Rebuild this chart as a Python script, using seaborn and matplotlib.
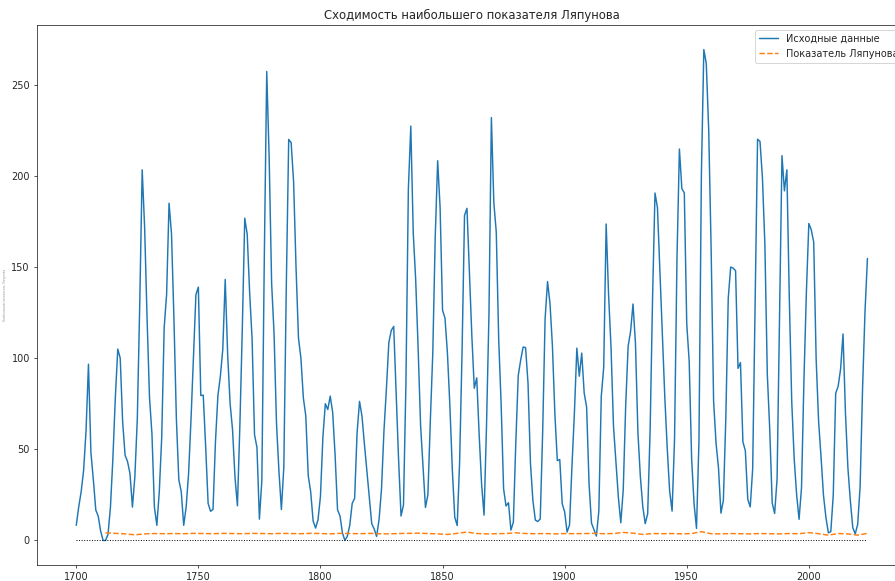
import matplotlib
matplotlib.use("Agg")
import matplotlib.pyplot as plt
import numpy as np
import pandas as pd
import seaborn as sns

# yearly sunspot numbers, 1700..2024
YEAR_START = 1700
SUNSPOTS = [
    8.3, 18.3, 26.7, 38.3, 60.0, 96.7, 48.3, 33.3, 16.7, 13.3,
    5.0, 0.0, 0.0, 3.3, 18.3, 45.0, 78.3, 105.0, 100.0, 65.0,
    46.7, 43.3, 36.7, 18.3, 35.0, 66.7, 130.0, 203.3, 171.7, 121.7,
    78.3, 58.3, 18.3, 8.3, 26.7, 56.7, 116.7, 135.0, 185.0, 168.3,
    121.7, 66.7, 33.3, 26.7, 8.3, 18.3, 36.7, 66.7, 100.0, 134.8,
    139.0, 79.5, 79.7, 51.2, 20.3, 16.0, 17.0, 54.0, 79.3, 90.0,
    104.8, 143.2, 102.0, 75.2, 60.7, 34.8, 19.0, 63.0, 116.3, 176.8,
    168.0, 136.0, 110.8, 58.0, 51.0, 11.7, 33.0, 154.2, 257.3, 209.8,
    141.3, 113.5, 64.2, 38.0, 17.0, 40.2, 138.2, 220.0, 218.2, 196.8,
    149.8, 111.0, 100.0, 78.2, 68.3, 35.5, 26.7, 10.7, 6.8, 11.3,
    24.2, 56.7, 75.0, 71.8, 79.2, 70.3, 46.8, 16.8, 13.5, 4.2,
    0.0, 2.3, 8.3, 20.3, 23.2, 59.0, 76.3, 68.3, 52.9, 38.5,
    24.2, 9.2, 6.3, 2.2, 11.4, 28.2, 59.9, 83.0, 108.5, 115.2,
    117.4, 80.8, 44.3, 13.4, 19.5, 85.8, 192.7, 227.3, 168.7, 143.0,
    105.5, 63.3, 40.3, 18.1, 25.1, 65.8, 102.7, 166.3, 208.3, 182.5,
    126.3, 122.0, 102.7, 74.1, 39.0, 12.7, 8.2, 43.4, 104.4, 178.3,
    182.2, 146.6, 112.1, 83.5, 89.2, 57.8, 30.7, 13.9, 62.8, 123.6,
    232.0, 185.3, 169.2, 110.1, 74.5, 28.3, 18.9, 20.7, 5.7, 10.0,
    53.7, 90.5, 99.0, 106.1, 105.8, 86.3, 42.4, 21.8, 11.2, 10.4,
    11.8, 59.5, 121.7, 142.0, 130.0, 106.6, 69.4, 43.8, 44.4, 20.2,
    15.7, 4.6, 8.5, 40.8, 70.1, 105.5, 90.1, 102.8, 80.9, 73.2,
    30.9, 9.5, 6.0, 2.4, 16.1, 79.0, 95.0, 173.6, 134.6, 105.7,
    62.7, 43.5, 23.7, 9.7, 27.9, 74.0, 106.5, 114.7, 129.7, 108.2,
    59.4, 35.1, 18.6, 9.2, 14.6, 60.2, 132.8, 190.6, 182.6, 148.0,
    113.0, 79.2, 50.8, 27.1, 16.1, 55.3, 154.3, 214.7, 193.0, 190.7,
    118.9, 98.3, 45.0, 20.1, 6.6, 54.2, 200.7, 269.3, 261.7, 225.1,
    159.0, 76.4, 53.4, 39.9, 15.0, 22.0, 66.8, 132.9, 150.0, 149.4,
    148.0, 94.4, 97.6, 54.1, 49.2, 22.5, 18.4, 39.3, 131.0, 220.1,
    218.9, 198.9, 162.4, 91.0, 60.5, 20.6, 14.8, 33.9, 123.0, 211.1,
    191.8, 203.3, 133.0, 76.1, 44.9, 25.1, 11.6, 28.9, 88.3, 136.3,
    173.9, 170.4, 163.6, 99.3, 65.3, 45.8, 24.7, 12.6, 4.2, 4.8,
    24.9, 80.8, 84.5, 94.0, 113.3, 69.8, 39.8, 21.7, 7.0, 3.6,
    8.8, 29.6, 83.2, 125.5, 154.7,
]
YEARS = list(range(YEAR_START, YEAR_START + len(SUNSPOTS)))

# running estimate of the largest Lyapunov exponent (read every 4 years)
LYAP_YEARS = list(range(1712, 2025, 4))
LYAP_VALUES = [
    4.2, 3.9, 3.6, 3.1, 3.6, 3.8, 3.7, 3.8, 3.7, 3.9,
    3.8, 3.7, 3.9, 3.8, 3.7, 3.9, 3.8, 3.7, 3.9, 3.8,
    3.7, 3.9, 3.8, 3.6, 3.9, 3.8, 3.7, 3.9, 3.7, 3.6,
    3.8, 3.9, 4.0, 3.8, 3.6, 3.3, 3.9, 4.6, 3.8, 3.6,
    3.7, 3.8, 4.2, 3.8, 3.7, 3.8, 3.6, 3.8, 3.7, 3.8,
    3.9, 3.7, 3.8, 4.4, 4.0, 3.3, 3.8, 3.7, 3.8, 3.6,
    3.8, 4.8, 3.7, 3.6, 3.8, 3.7, 3.6, 3.8, 3.7, 3.6,
    3.8, 3.7, 4.3, 3.7, 2.9, 3.8, 3.6, 2.9, 3.9,
]

df = pd.DataFrame({"year": YEARS, "value": SUNSPOTS})
lyap = pd.DataFrame({"year": LYAP_YEARS, "value": LYAP_VALUES})

sns.set_style("ticks")
plt.rcParams["font.family"] = ["DejaVu Sans"]

DPI = 70
fig = plt.figure(figsize=(895 / DPI, 581 / DPI), dpi=DPI)
# axes run past the right edge, as in the cropped original
ax = fig.add_axes([36.7 / 895, 16 / 581, (907 - 36.7) / 895, 540 / 581])

sns.lineplot(data=df, x="year", y="value", ax=ax, color="C0", linewidth=1.5,
             label="Исходные данные")
sns.lineplot(data=lyap, x="year", y="value", ax=ax, color="C1", linewidth=1.5,
             linestyle="--", label="Показатель Ляпунова")
ax.hlines(0, YEARS[0], YEARS[-1], colors="black", linestyles=":", linewidth=1)

ax.set_title("Сходимость наибольшего показателя Ляпунова")
ax.set_xlabel("")
ax.set_ylabel("Наибольший показатель Ляпунова", fontsize=3, color="0.6")
ax.legend(loc="upper right")

fig.savefig("out.png", dpi=DPI)
